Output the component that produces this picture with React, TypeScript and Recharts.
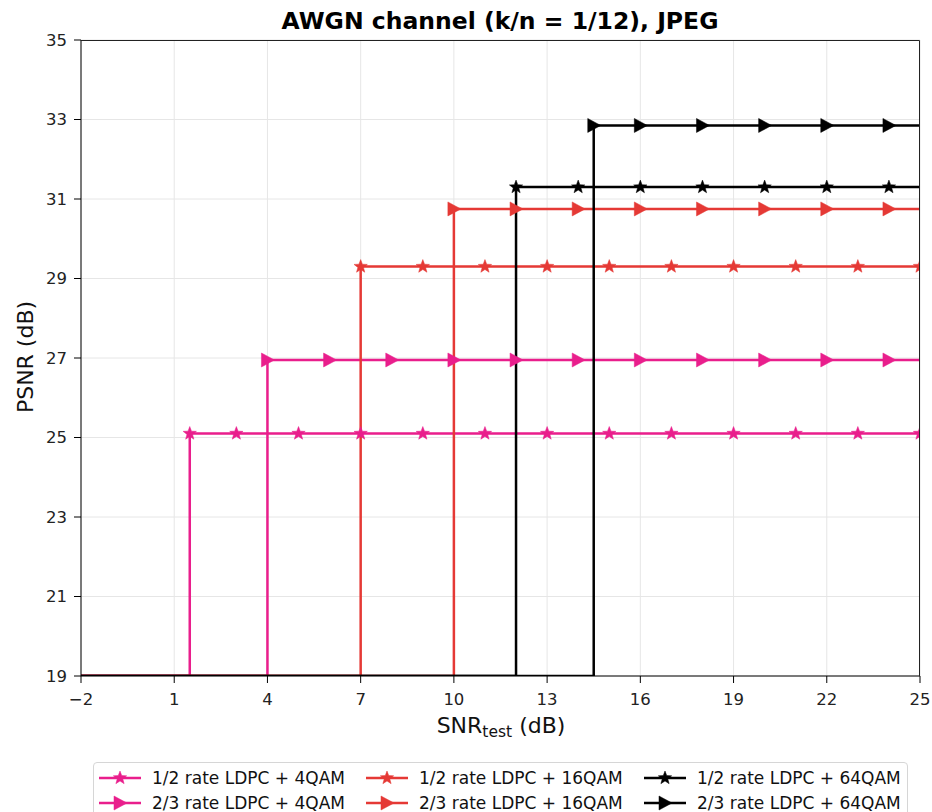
import React from 'react';
import {
  LineChart,
  Line,
  XAxis,
  YAxis,
  CartesianGrid,
} from 'recharts';

// PSNR floor before the decoder locks in
const FLOOR = 19;

// snr thresholds (dB) where each scheme starts decoding
const THRESHOLDS = [1.5, 4, 7, 10, 12, 14.5];
// PSNR plateau reached after the threshold
const PLATEAUS = [25.1, 26.95, 29.3, 30.75, 31.3, 32.85];

// marker positions along each plateau
const MARKS_HALF_4QAM = [1.5, 3, 5, 7, 9, 11, 13, 15, 17, 19, 21, 23, 25];
const MARKS_TWO3_4QAM = [4, 6, 8, 10, 12, 14, 16, 18, 20, 22, 24];
const MARKS_HALF_16QAM = [7, 9, 11, 13, 15, 17, 19, 21, 23, 25];
const MARKS_TWO3_16QAM = [10, 12, 14, 16, 18, 20, 22, 24];
const MARKS_HALF_64QAM = [12, 14, 16, 18, 20, 22, 24];
const MARKS_TWO3_64QAM = [14.5, 16, 18, 20, 22, 24];

const LABELS = [
  '1/2 rate LDPC + 4QAM',
  '2/3 rate LDPC + 4QAM',
  '1/2 rate LDPC + 16QAM',
  '2/3 rate LDPC + 16QAM',
  '1/2 rate LDPC + 64QAM',
  '2/3 rate LDPC + 64QAM',
];

const X_TICKS = [-2, 1, 4, 7, 10, 13, 16, 19, 22, 25];
const Y_TICKS = [19, 21, 23, 25, 27, 29, 31, 33, 35];

const PINK = '#e91e8c';
const RED = '#e53935';
const BLACK = '#000000';
const COLORS = [PINK, PINK, RED, RED, BLACK, BLACK];
const SHAPES: ('star' | 'tri')[] = ['star', 'tri', 'star', 'tri', 'star', 'tri'];
const MARKS = [
  MARKS_HALF_4QAM,
  MARKS_TWO3_4QAM,
  MARKS_HALF_16QAM,
  MARKS_TWO3_16QAM,
  MARKS_HALF_64QAM,
  MARKS_TWO3_64QAM,
];

const X_MIN = -2;
const X_MAX = 25;

const FONT = '"DejaVu Sans", Verdana, sans-serif';

function starPoints(cx: number, cy: number, r: number) {
  const pts: string[] = [];
  const inner = r * 0.42;
  for (let i = 0; i < 10; i++) {
    const a = -Math.PI / 2 + (i * Math.PI) / 5;
    const rr = i % 2 === 0 ? r : inner;
    pts.push(`${cx + rr * Math.cos(a)},${cy + rr * Math.sin(a)}`);
  }
  return pts.join(' ');
}

function Marker({ cx, cy, shape, color }: { cx: number; cy: number; shape: 'star' | 'tri'; color: string }) {
  if (shape === 'star') {
    return <polygon points={starPoints(cx, cy, 7)} fill={color} stroke={color} strokeWidth={0.5} />;
  }
  return (
    <polygon
      points={`${cx + 7},${cy} ${cx - 6},${cy - 7} ${cx - 6},${cy + 7}`}
      fill={color}
      stroke={color}
      strokeWidth={0.5}
    />
  );
}

function LegendMarker({ shape, color }: { shape: 'star' | 'tri'; color: string }) {
  return (
    <svg width={44} height={16} style={{ display: 'block' }}>
      <line x1={1} y1={8} x2={43} y2={8} stroke={color} strokeWidth={2.5} />
      <Marker cx={22} cy={8} shape={shape} color={color} />
    </svg>
  );
}

export default function App() {
  // step path: floor until threshold, jump, then flat to the edge
  const stepData = THRESHOLDS.map((t, i) => [
    { x: X_MIN, y: FLOOR },
    { x: t, y: FLOOR },
    { x: t, y: PLATEAUS[i] },
    { x: X_MAX, y: PLATEAUS[i] },
  ]);
  const markData = MARKS.map((xs, i) => xs.map((x) => ({ x, y: PLATEAUS[i] })));

  return (
    <div style={{ position: 'relative', width: 932, height: 812, fontFamily: FONT, background: '#fff', overflow: 'hidden' }}>
      <style>{'body{margin:0}'}</style>

      <LineChart
        width={932}
        height={740}
        margin={{ top: 40, right: 12, left: 21, bottom: 0 }}
        style={{ position: 'absolute', left: 0, top: 0 }}
      >
        <CartesianGrid stroke="#e6e6e6" strokeWidth={1} />
        <XAxis
          type="number"
          dataKey="x"
          domain={[X_MIN, X_MAX]}
          ticks={X_TICKS}
          allowDataOverflow
          height={64}
          tickSize={7}
          tickMargin={10}
          stroke="#000"
          tickFormatter={(v: number) => (v < 0 ? `\u2212${Math.abs(v)}` : `${v}`)}
          tick={{ fill: '#222', fontSize: 16.5, fontFamily: FONT }}
        />
        <YAxis
          type="number"
          dataKey="y"
          domain={[FLOOR, 35]}
          ticks={Y_TICKS}
          allowDataOverflow
          width={60}
          tickSize={7}
          tickMargin={7}
          stroke="#000"
          tick={{ fill: '#222', fontSize: 16.5, fontFamily: FONT }}
        />
        {stepData.map((d, i) => (
          <Line
            key={`step-${i}`}
            data={d}
            dataKey="y"
            type="linear"
            stroke={COLORS[i]}
            strokeWidth={2.5}
            dot={false}
            activeDot={false}
            isAnimationActive={false}
          />
        ))}
        {markData.map((d, i) => (
          <Line
            key={`mark-${i}`}
            data={d}
            dataKey="y"
            stroke="none"
            activeDot={false}
            isAnimationActive={false}
            dot={(p: any) => (
              <Marker key={`m-${i}-${p.index}`} cx={p.cx} cy={p.cy} shape={SHAPES[i]} color={COLORS[i]} />
            )}
          />
        ))}
      </LineChart>

      {/* frame on the top and right of the plot, plus title and axis labels */}
      <svg
        width={932}
        height={812}
        style={{ position: 'absolute', left: 0, top: 0, pointerEvents: 'none' }}
        fontFamily={FONT}
      >
        <polyline points="81,40.5 919.5,40.5 919.5,676" fill="none" stroke="#222" strokeWidth={1} />
        <text x={500} y={29} textAnchor="middle" fontSize={23.5} fontWeight="bold" fill="#000">
          AWGN channel (k/n = 1/12), JPEG
        </text>
        <text x={501} y={733} textAnchor="middle" fontSize={22} fill="#111">
          SNR
          <tspan fontSize={15.5} dy={4}>test</tspan>
          <tspan dy={-4}> (dB)</tspan>
        </text>
        <text
          x={33}
          y={357}
          textAnchor="middle"
          fontSize={22}
          fill="#111"
          transform="rotate(-90 33 357)"
        >
          PSNR (dB)
        </text>
      </svg>

      <div
        style={{
          position: 'absolute',
          left: 93,
          top: 762,
          width: 815,
          height: 60,
          border: '1px solid #d6d6d6',
          borderRadius: 4,
          boxSizing: 'border-box',
          display: 'grid',
          gridTemplateColumns: '267px 278px 260px',
          gridTemplateRows: '25px 25px',
          gridAutoFlow: 'column',
          padding: '2px 0 0 4px',
          fontSize: 17,
          color: '#111',
        }}
      >
        {LABELS.map((l, i) => (
          <div key={l} style={{ display: 'flex', alignItems: 'center', gap: 10 }}>
            <LegendMarker shape={SHAPES[i]} color={COLORS[i]} />
            <span style={{ whiteSpace: 'nowrap' }}>{l}</span>
          </div>
        ))}
      </div>
    </div>
  );
}
